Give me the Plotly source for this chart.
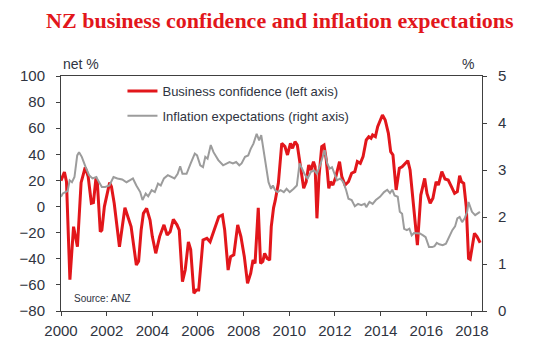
import plotly.graph_objects as go

# ---- data ----
conf_years = [2000.00, 2000.15, 2000.24, 2000.39, 2000.55, 2000.72, 2000.88, 2001.06, 2001.19, 2001.33,
              2001.42, 2001.53, 2001.59, 2001.72, 2001.79, 2001.90, 2002.13, 2002.21, 2002.33, 2002.56,
              2002.80, 2002.93, 2003.07, 2003.30, 2003.40, 2003.51, 2003.61, 2003.75, 2003.90, 2004.00,
              2004.15, 2004.32, 2004.51, 2004.65, 2004.78, 2004.92, 2005.08, 2005.18, 2005.32, 2005.44,
              2005.58, 2005.68, 2005.82, 2005.93, 2006.03, 2006.22, 2006.39, 2006.53, 2006.70, 2006.91,
              2007.07, 2007.17, 2007.32, 2007.43, 2007.57, 2007.74, 2007.88, 2008.03, 2008.17, 2008.31,
              2008.41, 2008.50, 2008.64, 2008.74, 2008.84, 2008.92, 2009.03, 2009.14, 2009.21, 2009.31,
              2009.38, 2009.52, 2009.67, 2009.81, 2009.92, 2010.05, 2010.14, 2010.25, 2010.35, 2010.49,
              2010.63, 2010.74, 2010.85, 2010.95, 2011.06, 2011.13, 2011.21, 2011.30, 2011.42, 2011.52,
              2011.62, 2011.73, 2011.80, 2011.91, 2012.04, 2012.20, 2012.30, 2012.44, 2012.59, 2012.73,
              2012.87, 2012.98, 2013.11, 2013.23, 2013.37, 2013.48, 2013.58, 2013.65, 2013.77, 2013.87,
              2014.08, 2014.20, 2014.34, 2014.44, 2014.54, 2014.68, 2014.82, 2014.94, 2015.08, 2015.19,
              2015.29, 2015.44, 2015.61, 2015.76, 2015.93, 2016.03, 2016.17, 2016.29, 2016.43, 2016.53,
              2016.68, 2016.82, 2016.96, 2017.10, 2017.24, 2017.36, 2017.46, 2017.54, 2017.64, 2017.75,
              2017.85, 2017.92, 2018.11, 2018.22, 2018.36]
conf_values = [19.8, 26.5, 19.0, -56.0, -15.4, -30.8, 18.3, 30.0, 22.9, 2.5,
               3.0, 21.6, 19.0, -19.3, -18.0, 0.0, 18.3, 15.2, 2.5, -30.8,
               -0.9, -7.8, -15.4, -44.8, -42.0, -18.0, -5.2, -1.4, -10.3, -23.0,
               -35.8, -23.0, -14.0, -21.8, -19.3, -9.8, -14.0, -18.0, -57.6, -48.6,
               -27.0, -33.0, -66.4, -64.0, -64.0, -25.6, -24.3, -27.0, -18.0, -7.8,
               -6.5, -18.0, -48.6, -38.4, -37.0, -14.0, -23.0, -38.4, -58.8, -51.0,
               -41.0, -43.5, -1.0, -43.5, -42.0, -35.8, -39.7, -41.0, -15.4, -1.0,
               4.3, 17.8, 48.4, 45.9, 39.5, 48.4, 44.6, 49.7, 47.1, 31.8,
               14.0, 19.0, 31.8, 28.0, 34.4, 30.5, -9.0, 22.9, 45.9, 47.1,
               35.7, 14.0, 19.0, 16.5, 22.9, 34.4, 22.9, 16.5, 19.0, 25.5,
               26.7, 34.4, 33.1, 38.2, 51.0, 53.5, 52.3, 54.8, 53.5, 61.2,
               70.1, 66.3, 56.1, 42.0, 39.5, 12.7, 29.3, 30.5, 33.1, 35.1,
               28.0, 2.5, -29.5, 8.8, 21.6, 10.1, 2.5, 6.3, 19.0, 16.5,
               26.7, 21.1, 20.3, 15.2, 10.1, 11.4, 23.6, 19.0, 17.8, 0.0,
               -39.7, -40.4, -20.5, -23.0, -27.7]

infl_years = [2000.00, 2000.08, 2000.19, 2000.29, 2000.38, 2000.48, 2000.59, 2000.71, 2000.79, 2000.91,
              2001.08, 2001.23, 2001.38, 2001.55, 2001.62, 2001.79, 2001.94, 2002.12, 2002.30, 2002.47,
              2002.68, 2002.87, 2003.01, 2003.15, 2003.30, 2003.47, 2003.57, 2003.71, 2003.82, 2003.97,
              2004.11, 2004.25, 2004.37, 2004.51, 2004.68, 2004.82, 2004.97, 2005.11, 2005.22, 2005.32,
              2005.50, 2005.68, 2005.86, 2005.96, 2006.10, 2006.22, 2006.32, 2006.42, 2006.56, 2006.68,
              2006.89, 2007.10, 2007.24, 2007.38, 2007.53, 2007.67, 2007.81, 2007.91, 2008.06, 2008.20,
              2008.31, 2008.43, 2008.57, 2008.68, 2008.77, 2008.85, 2008.95, 2009.09, 2009.20, 2009.28,
              2009.38, 2009.48, 2009.62, 2009.76, 2009.88, 2010.02, 2010.19, 2010.33, 2010.45, 2010.56,
              2010.66, 2010.80, 2010.95, 2011.09, 2011.21, 2011.35, 2011.44, 2011.55, 2011.66, 2011.77,
              2011.87, 2011.99, 2012.09, 2012.23, 2012.37, 2012.49, 2012.59, 2012.73, 2012.87, 2013.01,
              2013.15, 2013.30, 2013.37, 2013.51, 2013.65, 2013.79, 2013.97, 2014.15, 2014.29, 2014.41,
              2014.51, 2014.61, 2014.75, 2014.84, 2014.94, 2015.03, 2015.15, 2015.26, 2015.36, 2015.46,
              2015.58, 2015.72, 2015.86, 2015.97, 2016.12, 2016.26, 2016.36, 2016.46, 2016.57, 2016.72,
              2016.86, 2017.00, 2017.14, 2017.26, 2017.36, 2017.46, 2017.57, 2017.68, 2017.79, 2017.85,
              2018.00, 2018.14, 2018.35]
infl_values = [2.43, 2.50, 2.53, 2.55, 2.78, 2.74, 2.85, 3.31, 3.38, 3.28,
               3.06, 2.89, 2.82, 2.85, 2.78, 2.64, 2.64, 2.67, 2.85, 2.82,
               2.80, 2.74, 2.78, 2.82, 2.67, 2.53, 2.36, 2.50, 2.44, 2.57,
               2.53, 2.71, 2.67, 2.82, 2.89, 2.85, 2.82, 2.92, 3.08, 2.92,
               2.92, 3.14, 3.35, 3.31, 3.10, 3.06, 3.28, 3.24, 3.53, 3.38,
               3.21, 3.10, 3.14, 3.17, 3.14, 3.17, 3.10, 3.14, 3.28, 3.31,
               3.45, 3.56, 3.77, 3.63, 3.74, 3.49, 3.10, 2.74, 2.60, 2.67,
               2.57, 2.53, 2.57, 2.53, 2.60, 2.53, 2.60, 2.67, 3.14, 3.03,
               2.92, 2.82, 2.96, 2.99, 2.92, 3.10, 3.24, 3.42, 3.14, 3.03,
               3.06, 2.89, 2.78, 2.82, 2.74, 2.57, 2.39, 2.36, 2.23, 2.28,
               2.25, 2.28, 2.21, 2.32, 2.28, 2.36, 2.43, 2.53, 2.58, 2.51,
               2.58, 2.46, 2.43, 2.11, 2.07, 1.75, 1.72, 1.75, 1.61, 1.66,
               1.65, 1.65, 1.61, 1.57, 1.36, 1.36, 1.38, 1.45, 1.42, 1.40,
               1.43, 1.57, 1.72, 1.80, 1.97, 2.00, 1.89, 1.97, 2.11, 2.32,
               2.11, 2.04, 2.11]

x_ticks = [2000, 2002, 2004, 2006, 2008, 2010, 2012, 2014, 2016, 2018]
left_ticks = [-80, -60, -40, -20, 0, 20, 40, 60, 80, 100]
right_ticks = [0, 1, 2, 3, 4, 5]

TXT = "#2f3441"
AX = "#404040"
FONT = "Liberation Sans, Arial, sans-serif"

fig = go.Figure()
fig.add_trace(go.Scatter(
    x=infl_years, y=infl_values, yaxis="y2", mode="lines",
    name="Inflation expectations (right axis)",
    line=dict(color="#9c9c9c", width=2), legendrank=2, legendgroup="b"))
fig.add_trace(go.Scatter(
    x=conf_years, y=conf_values, mode="lines",
    name="Business confidence (left axis)",
    line=dict(color="#e2161b", width=3), legendrank=1, legendgroup="a"))

# the page body adds an 8px offset, so the figure is 8px smaller on each side
fig.update_layout(
    width=529, height=348,
    margin=dict(l=42, r=55, t=68, b=45),
    paper_bgcolor="white", plot_bgcolor="white",
    font=dict(family=FONT, color=TXT, size=15),
    title=dict(text="<b>NZ business confidence and inflation expectations</b>",
               font=dict(family="Liberation Serif, Times New Roman, serif", size=22, color="#e2161b"),
               x=0.514, xanchor="center", y=0.965, yanchor="middle"),
    showlegend=True,
    legend=dict(x=0.146, y=1.0, xanchor="left", yanchor="top",
                bgcolor="rgba(0,0,0,0)", font=dict(size=13, color=TXT),
                tracegroupgap=5),
    xaxis=dict(range=[2000, 2018.44], tickvals=x_ticks, ticks="outside", ticklen=4,
               tickcolor=AX, showline=True, linecolor=AX, linewidth=1, mirror=True,
               showgrid=False, zeroline=False, tickfont=dict(size=15),
               ticklabelstandoff=2),
    yaxis=dict(range=[-80, 100], tickvals=left_ticks, ticks="outside", ticklen=4,
               tickcolor=AX, showline=True, linecolor=AX, linewidth=1,
               showgrid=False, zeroline=False, tickfont=dict(size=15),
               ticklabelstandoff=8),
    yaxis2=dict(range=[0, 5], tickvals=right_ticks, overlaying="y", side="right",
                ticks="outside", ticklen=4, tickcolor=AX, showline=True,
                linecolor=AX, linewidth=1, showgrid=False, zeroline=False,
                tickfont=dict(size=15), ticklabelstandoff=8),
    annotations=[
        dict(text="net %", xref="paper", yref="paper", x=0.0, y=1.0, xanchor="left",
             yanchor="bottom", showarrow=False, font=dict(size=14, color=TXT), yshift=2),
        dict(text="%", xref="paper", yref="paper", x=0.985, y=1.0, xanchor="right",
             yanchor="bottom", showarrow=False, font=dict(size=14, color=TXT), yshift=2),
        dict(text="Source: ANZ", xref="paper", yref="paper", x=0.025, y=0.055,
             xanchor="left", yanchor="middle", showarrow=False,
             font=dict(size=10, color=TXT)),
    ],
)

fig.write_html("out.html")
